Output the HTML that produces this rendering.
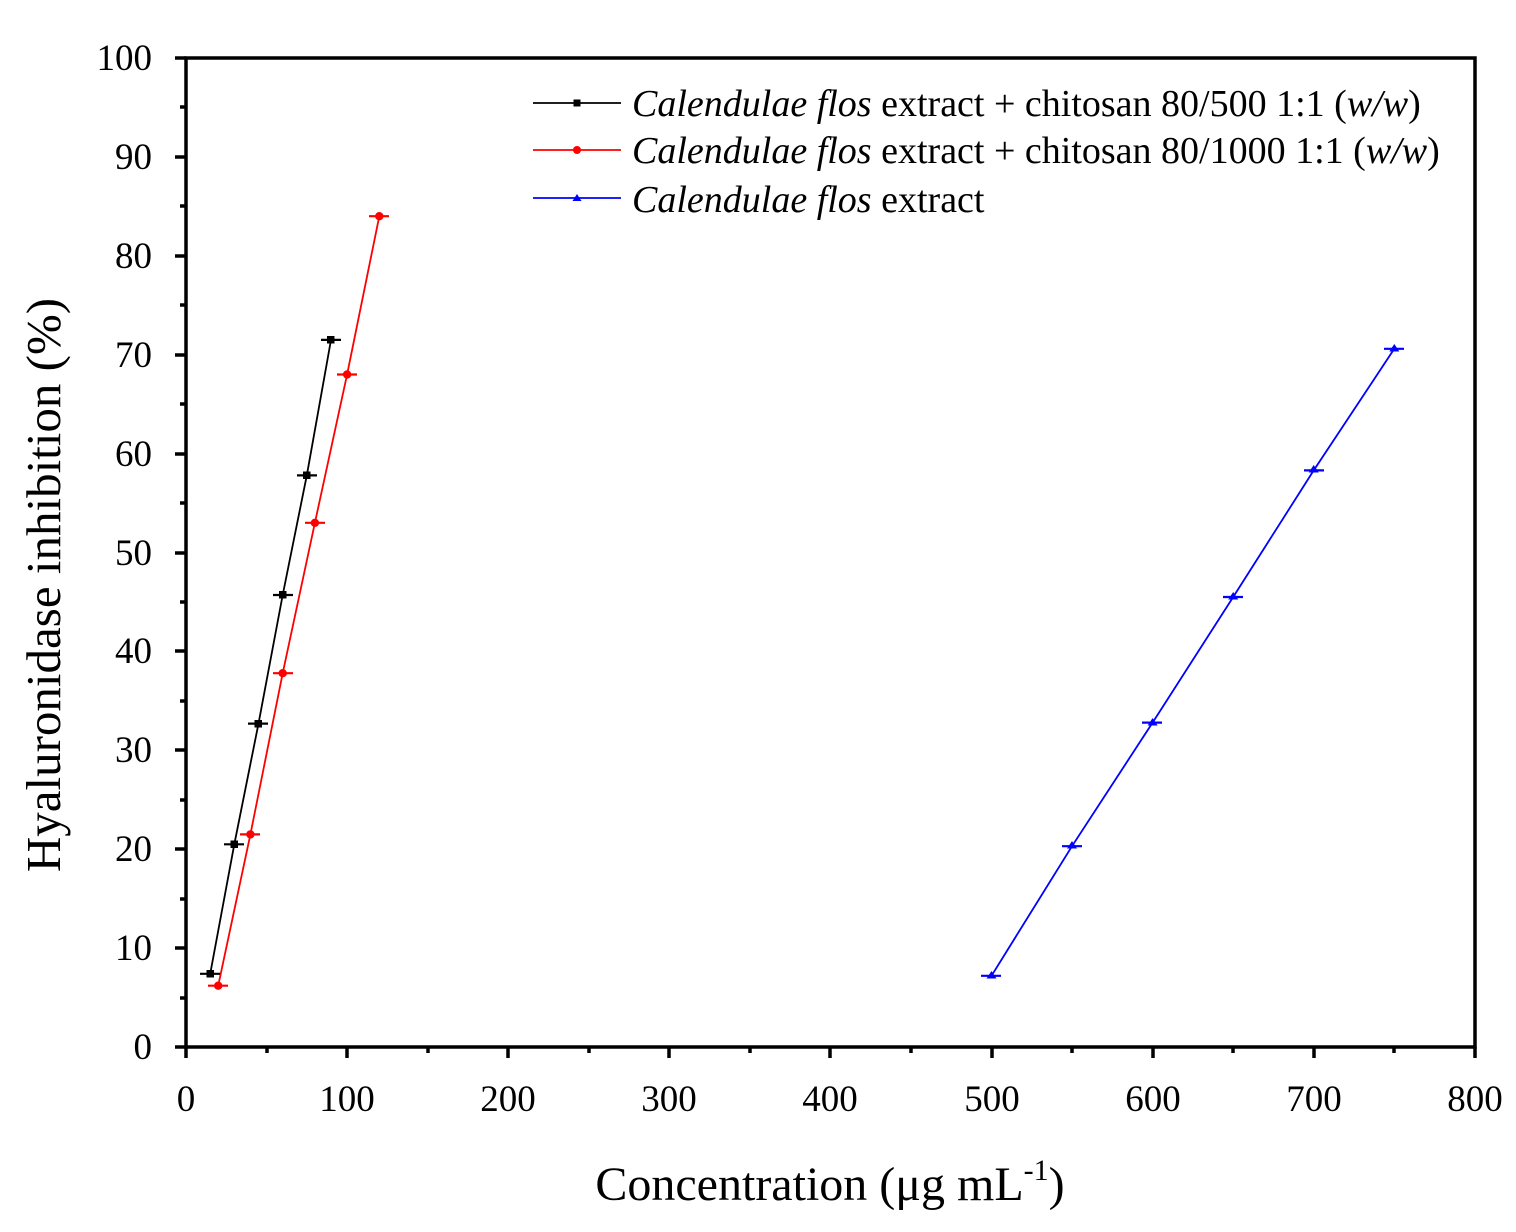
<!DOCTYPE html><html><head><style>body{margin:0;background:#fff}</style></head><body>
<svg width="1516" height="1227" xmlns="http://www.w3.org/2000/svg" font-family="Liberation Serif, serif">
<rect width="1516" height="1227" fill="#fff"/>
<rect x="186" y="58" width="1289" height="989" fill="none" stroke="#000" stroke-width="3.5"/>
<g stroke="#000" stroke-width="3.5">
<path d="M175 1047h11M175 948h11M175 849h11M175 750h11M175 651h11M175 553h11M175 454h11M175 355h11M175 256h11M175 157h11M175 58h11"/>
<path d="M180 998h6M180 899h6M180 800h6M180 701h6M180 602h6M180 503h6M180 404h6M180 305h6M180 206h6M180 107h6"/>
<path d="M186 1047v11M347 1047v11M508 1047v11M669 1047v11M830 1047v11M992 1047v11M1153 1047v11M1314 1047v11M1475 1047v11"/>
<path d="M267 1047v6M428 1047v6M589 1047v6M750 1047v6M911 1047v6M1072 1047v6M1233 1047v6M1394 1047v6"/>
</g>
<g font-size="37" text-anchor="end">
<text x="152" y="1059">0</text><text x="152" y="960">10</text><text x="152" y="861">20</text><text x="152" y="762">30</text><text x="152" y="663">40</text><text x="152" y="565">50</text><text x="152" y="466">60</text><text x="152" y="367">70</text><text x="152" y="268">80</text><text x="152" y="169">90</text><text x="152" y="70">100</text>
</g>
<g font-size="37" text-anchor="middle">
<text x="186" y="1111">0</text><text x="347" y="1111">100</text><text x="508" y="1111">200</text><text x="669" y="1111">300</text><text x="830" y="1111">400</text><text x="992" y="1111">500</text><text x="1153" y="1111">600</text><text x="1314" y="1111">700</text><text x="1475" y="1111">800</text>
</g>
<text x="830" y="1200" font-size="48" text-anchor="middle">Concentration (μg mL<tspan font-size="30" dy="-20">-1</tspan><tspan dy="20">)</tspan></text>
<text transform="translate(60 585) rotate(-90)" font-size="49" text-anchor="middle">Hyaluronidase inhibition (%)</text>
<g fill="none" stroke-width="1.8">
<polyline stroke="#000" points="210.2,973.8 234.3,844.3 258.5,723.6 282.7,595 306.8,475.4 331,339.9"/>
<polyline stroke="#f00" points="218.2,985.7 250.4,834.4 282.7,673.2 314.9,522.8 347.1,374.5 379.3,216.2"/>
<polyline stroke="#00f" points="991.5,975.8 1072,846.2 1152.6,722.6 1233.2,597 1313.7,470.4 1394.3,348.8"/>
</g>
<g stroke-width="2.2">
<path stroke="#000" d="M200 973.8h20M224 844.3h20M248 723.6h20M273 595h20M297 475.4h20M321 339.9h20"/>
<path stroke="#f00" d="M208 985.7h20M240 834.4h20M273 673.2h20M305 522.8h20M337 374.5h20M369 216.2h20"/>
<path stroke="#00f" d="M981 975.8h20M1062 846.2h20M1142 722.6h20M1223 597h20M1304 470.4h20M1384 348.8h20"/>
</g>
<g fill="#000"><rect x="206.5" y="970" width="7.5" height="7.5"/><rect x="230.5" y="840.5" width="7.5" height="7.5"/><rect x="254.5" y="720" width="7.5" height="7.5"/><rect x="279" y="591" width="7.5" height="7.5"/><rect x="303" y="471.5" width="7.5" height="7.5"/><rect x="327" y="336" width="7.5" height="7.5"/></g>
<g fill="#f00"><circle cx="218.2" cy="985.7" r="4.2"/><circle cx="250.4" cy="834.4" r="4.2"/><circle cx="282.7" cy="673.2" r="4.2"/><circle cx="314.9" cy="522.8" r="4.2"/><circle cx="347.1" cy="374.5" r="4.2"/><circle cx="379.3" cy="216.2" r="4.2"/></g>
<g fill="#00f"><path d="M991.5 971l5 7.5h-10z"/><path d="M1072 841l5 7.5h-10z"/><path d="M1152.6 718l5 7.5h-10z"/><path d="M1233.2 592l5 7.5h-10z"/><path d="M1313.7 465l5 7.5h-10z"/><path d="M1394.3 344l5 7.5h-10z"/></g>
<g stroke-width="1.8"><path stroke="#000" d="M533 103h88"/><path stroke="#f00" d="M533 150h88"/><path stroke="#00f" d="M533 198h88"/></g>
<rect x="573.5" y="99.5" width="7" height="7"/><circle cx="577" cy="150" r="4" fill="#f00"/><path d="M577 194l4.5 7h-9z" fill="#00f"/>
<g font-size="38">
<text x="632" y="116"><tspan font-style="italic">Calendulae flos</tspan> extract + chitosan 80/500 1:1 (<tspan font-style="italic">w/w</tspan>)</text>
<text x="632" y="163"><tspan font-style="italic">Calendulae flos</tspan> extract + chitosan 80/1000 1:1 (<tspan font-style="italic">w/w</tspan>)</text>
<text x="632" y="212"><tspan font-style="italic">Calendulae flos</tspan> extract</text>
</g>
</svg></body></html>
